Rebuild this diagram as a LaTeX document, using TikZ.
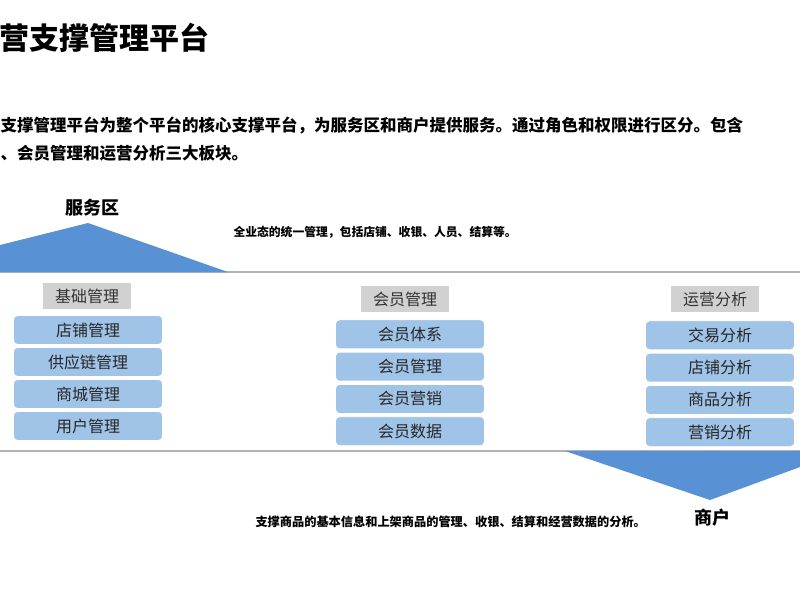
\documentclass[tikz,border=0pt]{standalone}
\usepackage{fontspec}
\setmainfont{Noto Sans CJK SC}
\begin{document}
\begin{tikzpicture}[x=1pt,y=-1pt,
  item/.style={draw=white,line width=0.8pt,rounded corners=4pt,
    fill={rgb,255:red,160;green,196;blue,232},minimum width=149pt,minimum height=29pt,font=\fontsize{16}{16}\selectfont,text=black!85},
  head/.style={fill=black!18,minimum width=88pt,minimum height=26pt,font=\fontsize{16}{16}\selectfont,text=black!80},
  band/.style={fill={rgb,255:red,88;green,146;blue,212}}]
\useasboundingbox (0,0) rectangle (800,600);

%%%% Title and intro
\node[anchor=west,font=\bfseries\fontsize{30}{30}\selectfont] (title) at (-4,38) {营支撑管理平台};
\node[anchor=west,font=\bfseries\fontsize{16.5}{16.5}\selectfont] (introa) at (-3,126) {支撑管理平台为整个平台的核心支撑平台，为服务区和商户提供服务。通过角色和权限进行区分。包含};
\node[anchor=west,font=\bfseries\fontsize{16.5}{16.5}\selectfont] (introb) at (-3,153) {、会员管理和运营分析三大板块。};

%%%% Bands
\draw[black!30,line width=1.2pt] (0,272) -- (800,272);
\draw[black!30,line width=1.2pt] (0,451) -- (800,451);
\fill[band] (0,272) -- (0,245) -- (88,223) -- (228,272) -- cycle;
\fill[band] (565,451) -- (800,451) -- (800,467) -- (710,500) -- cycle;
\node[font=\bfseries\fontsize{18}{18}\selectfont] (fwq) at (92,208) {服务区};
\node[anchor=west,font=\bfseries\fontsize{11.8}{11.8}\selectfont] (fwqtxt) at (230,232) {全业态的统一管理，包括店铺、收银、人员、结算等。};
\node[font=\bfseries\fontsize{18}{18}\selectfont] (sh) at (712,518) {商户};
\node[anchor=west,font=\bfseries\fontsize{12.2}{12.2}\selectfont] (shtxt) at (252,522) {支撑商品的基本信息和上架商品的管理、收银、结算和经营数据的分析。};

%%%% Columns
\node[head] (jc) at (87,296) {基础管理};
\foreach \t [count=\i] in {店铺管理,供应链管理,商城管理,用户管理}
  \node[item] (jc\i) at (88,298+32*\i) {\t};

\node[head] (hy) at (405,299) {会员管理};
\foreach \t [count=\i] in {会员体系,会员管理,会员营销,会员数据}
  \node[item] (hy\i) at (410,302+32.3*\i) {\t};

\node[head] (yy) at (715,299) {运营分析};
\foreach \t [count=\i] in {交易分析,店铺分析,商品分析,营销分析}
  \node[item] (yy\i) at (720,303+32.3*\i) {\t};
\end{tikzpicture}
\end{document}
